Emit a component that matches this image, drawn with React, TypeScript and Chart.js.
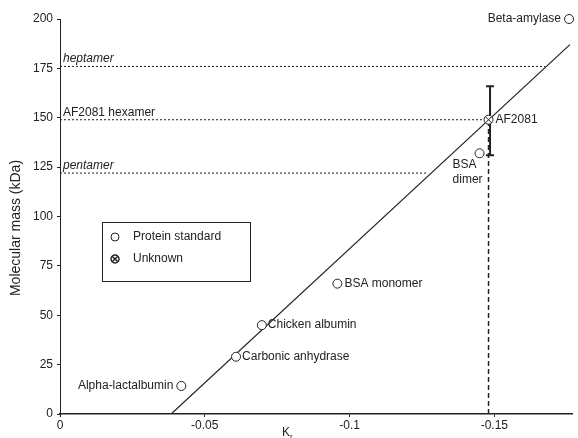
import React, { useEffect, useRef } from 'react';
import { Chart, registerables } from 'chart.js';

Chart.register(...registerables);

const FONT = '"Liberation Sans", Arial, Helvetica, sans-serif';
const INK = '#222222';

// ---- data ----
const xTickValues = [0, -0.05, -0.1, -0.15];
const yTickValues = [0, 25, 50, 75, 100, 125, 150, 175, 200];

const standardNames = ['Alpha-lactalbumin', 'Carbonic anhydrase', 'Chicken albumin', 'BSA monomer', 'BSA dimer', 'Beta-amylase'];
const standardKr = [-0.0419, -0.0608, -0.0697, -0.0958, -0.1449, -0.1758];
const standardMass = [14.2, 29, 45, 66, 132, 200];

const unknownName = 'AF2081';
const unknownKr = [-0.148];
const unknownMass = [149];
const unknownErrLow = [131];
const unknownErrHigh = [166];

const fitKr = [-0.0384, -0.1761];
const fitMass = [0, 187];

const oligomerNames = ['heptamer', 'AF2081 hexamer', 'pentamer'];
const oligomerMass = [176, 149, 122];
const oligomerEndKr = [-0.1675, -0.148, -0.127];

// ---- label placement (pixels) ----
const standardLabelPlacement = [
  { align: 'right', dx: -8, dy: 0 },
  { align: 'left', dx: 6, dy: 0 },
  { align: 'left', dx: 6, dy: 0 },
  { align: 'left', dx: 7, dy: 0 },
  { align: 'left', dx: -27, dy: 11, lines: ['BSA', 'dimer'] },
  { align: 'right', dx: -8, dy: 0 },
];
const oligomerItalic = [true, false, true];

export default function App() {
  const ref = useRef<HTMLCanvasElement>(null);

  useEffect(() => {
    const canvas = ref.current;
    if (!canvas) return;

    const drawUnknownSymbol = (ctx: CanvasRenderingContext2D, x: number, y: number, r: number, lw: number) => {
      ctx.save();
      ctx.lineWidth = lw;
      ctx.strokeStyle = INK;
      ctx.fillStyle = '#fff';
      ctx.beginPath();
      ctx.arc(x, y, r, 0, Math.PI * 2);
      ctx.fill();
      ctx.stroke();
      const d = r * Math.SQRT1_2;
      ctx.beginPath();
      ctx.moveTo(x - d, y - d);
      ctx.lineTo(x + d, y + d);
      ctx.moveTo(x + d, y - d);
      ctx.lineTo(x - d, y + d);
      ctx.stroke();
      ctx.restore();
    };

    const errorBars = {
      id: 'errorBars',
      beforeDatasetsDraw(chart: any) {
        const ctx = chart.ctx as CanvasRenderingContext2D;
        const xs = chart.scales.x;
        const ys = chart.scales.y;
        ctx.save();
        ctx.strokeStyle = INK;
        ctx.lineWidth = 2;
        unknownKr.forEach((kr, i) => {
          const x = xs.getPixelForValue(kr) + 1.5;
          const yl = ys.getPixelForValue(unknownErrLow[i]);
          const yh = ys.getPixelForValue(unknownErrHigh[i]);
          ctx.beginPath();
          ctx.moveTo(x, yl);
          ctx.lineTo(x, yh);
          ctx.moveTo(x - 4, yl);
          ctx.lineTo(x + 4, yl);
          ctx.moveTo(x - 4, yh);
          ctx.lineTo(x + 4, yh);
          ctx.stroke();
        });
        ctx.restore();
      },
    };

    const annotate = {
      id: 'annotate',
      afterDatasetsDraw(chart: any) {
        const ctx = chart.ctx as CanvasRenderingContext2D;
        const xs = chart.scales.x;
        const ys = chart.scales.y;
        ctx.save();
        ctx.fillStyle = INK;
        ctx.textBaseline = 'middle';

        // unknown symbol
        unknownKr.forEach((kr, i) => {
          drawUnknownSymbol(ctx, xs.getPixelForValue(kr), ys.getPixelForValue(unknownMass[i]), 4.5, 1);
        });

        ctx.font = `12px ${FONT}`;
        ctx.fillStyle = INK;
        standardNames.forEach((name, i) => {
          const p = standardLabelPlacement[i];
          const x = xs.getPixelForValue(standardKr[i]) + p.dx;
          const y = ys.getPixelForValue(standardMass[i]) + p.dy;
          ctx.textAlign = p.align as CanvasTextAlign;
          const lines = p.lines || [name];
          lines.forEach((ln, j) => ctx.fillText(ln, x, y + j * 15));
        });

        // unknown label
        ctx.textAlign = 'left';
        ctx.fillText(unknownName, xs.getPixelForValue(unknownKr[0]) + 7, ys.getPixelForValue(unknownMass[0]));

        // oligomer labels
        ctx.textBaseline = 'alphabetic';
        oligomerNames.forEach((n, i) => {
          ctx.font = `${oligomerItalic[i] ? 'italic ' : ''}12px ${FONT}`;
          ctx.fillText(n, xs.left + 3, ys.getPixelForValue(oligomerMass[i]) - 4);
        });

        // legend box
        const bx = 102, by = 222, bw = 148, bh = 59;
        ctx.strokeStyle = INK;
        ctx.lineWidth = 1;
        ctx.strokeRect(bx + 0.5, by + 0.5, bw, bh);
        ctx.beginPath();
        ctx.fillStyle = '#fff';
        ctx.arc(115, 237, 4, 0, Math.PI * 2);
        ctx.fill();
        ctx.stroke();
        drawUnknownSymbol(ctx, 115, 259, 4, 1.5);
        ctx.fillStyle = INK;
        ctx.font = `12px ${FONT}`;
        ctx.textBaseline = 'middle';
        ctx.textAlign = 'left';
        ctx.fillText('Protein standard', 133, 237);
        ctx.fillText('Unknown', 133, 259);

        // axis titles
        ctx.font = `14px ${FONT}`;
        ctx.save();
        ctx.translate(16, 228);
        ctx.rotate(-Math.PI / 2);
        ctx.textAlign = 'center';
        ctx.fillText('Molecular mass (kDa)', 0, 0);
        ctx.restore();

        ctx.font = `12px ${FONT}`;
        ctx.textAlign = 'left';
        ctx.fillText('K', 282, 433);
        ctx.font = `8px ${FONT}`;
        ctx.fillText('r', 290, 437);

        ctx.restore();
      },
    };

    const oligomerSets = oligomerNames.map((n, i) => ({
      type: 'line' as const,
      label: n,
      data: [
        { x: 0, y: oligomerMass[i] },
        { x: oligomerEndKr[i], y: oligomerMass[i] },
      ],
      borderColor: INK,
      borderWidth: 1,
      borderDash: [2, 2],
      pointRadius: 0,
      fill: false,
    }));

    const chart = new Chart(canvas, {
      type: 'scatter',
      data: {
        datasets: [
          {
            label: 'Protein standard',
            data: standardKr.map((x, i) => ({ x, y: standardMass[i] })),
            pointStyle: 'circle',
            pointRadius: 4.5,
            pointBackgroundColor: '#fff',
            pointBorderColor: INK,
            pointBorderWidth: 1,
            clip: false,
          },
          {
            type: 'line',
            label: 'fit',
            data: fitKr.map((x, i) => ({ x, y: fitMass[i] })),
            borderColor: INK,
            borderWidth: 1.2,
            pointRadius: 0,
            fill: false,
          },
          {
            type: 'line',
            label: 'drop',
            data: [
              { x: unknownKr[0], y: 0 },
              { x: unknownKr[0], y: unknownMass[0] },
            ],
            borderColor: INK,
            borderWidth: 1.5,
            borderDash: [5, 3],
            pointRadius: 0,
            fill: false,
          },
          ...oligomerSets,
        ] as any,
      },
      options: {
        responsive: false,
        animation: false,
        events: [],
        layout: { padding: { top: 19, right: 3, left: 0, bottom: 0 } },
        plugins: {
          legend: { display: false },
          tooltip: { enabled: false },
        },
        scales: {
          x: {
            type: 'linear',
            min: -0.177,
            max: 0,
            reverse: true,
            afterBuildTicks: (s: any) => {
              s.ticks = xTickValues.map((v) => ({ value: v }));
            },
            afterFit: (s: any) => {
              s.height = 24;
            },
            ticks: {
              callback: (v: any) => String(v),
              font: { family: FONT, size: 12 },
              color: INK,
              padding: 1,
              maxRotation: 0,
            },
            grid: { display: true, drawOnChartArea: false, drawTicks: true, tickLength: 3, color: INK },
            border: { display: true, color: INK, width: 1.5 },
          },
          y: {
            type: 'linear',
            min: 0,
            max: 200,
            afterBuildTicks: (s: any) => {
              s.ticks = yTickValues.map((v) => ({ value: v }));
            },
            afterFit: (s: any) => {
              s.width = 60;
            },
            ticks: {
              font: { family: FONT, size: 12 },
              color: INK,
              padding: 4,
            },
            grid: { display: true, drawOnChartArea: false, drawTicks: true, tickLength: 3, color: INK },
            border: { display: true, color: INK, width: 1 },
          },
        },
      },
      plugins: [errorBars, annotate],
    });

    return () => chart.destroy();
  }, []);

  return (
    <div style={{ position: 'fixed', left: 0, top: 0, width: 578, height: 438, background: '#fff' }}>
      <canvas ref={ref} width={578} height={438} style={{ width: 578, height: 438, display: 'block' }} />
    </div>
  );
}
